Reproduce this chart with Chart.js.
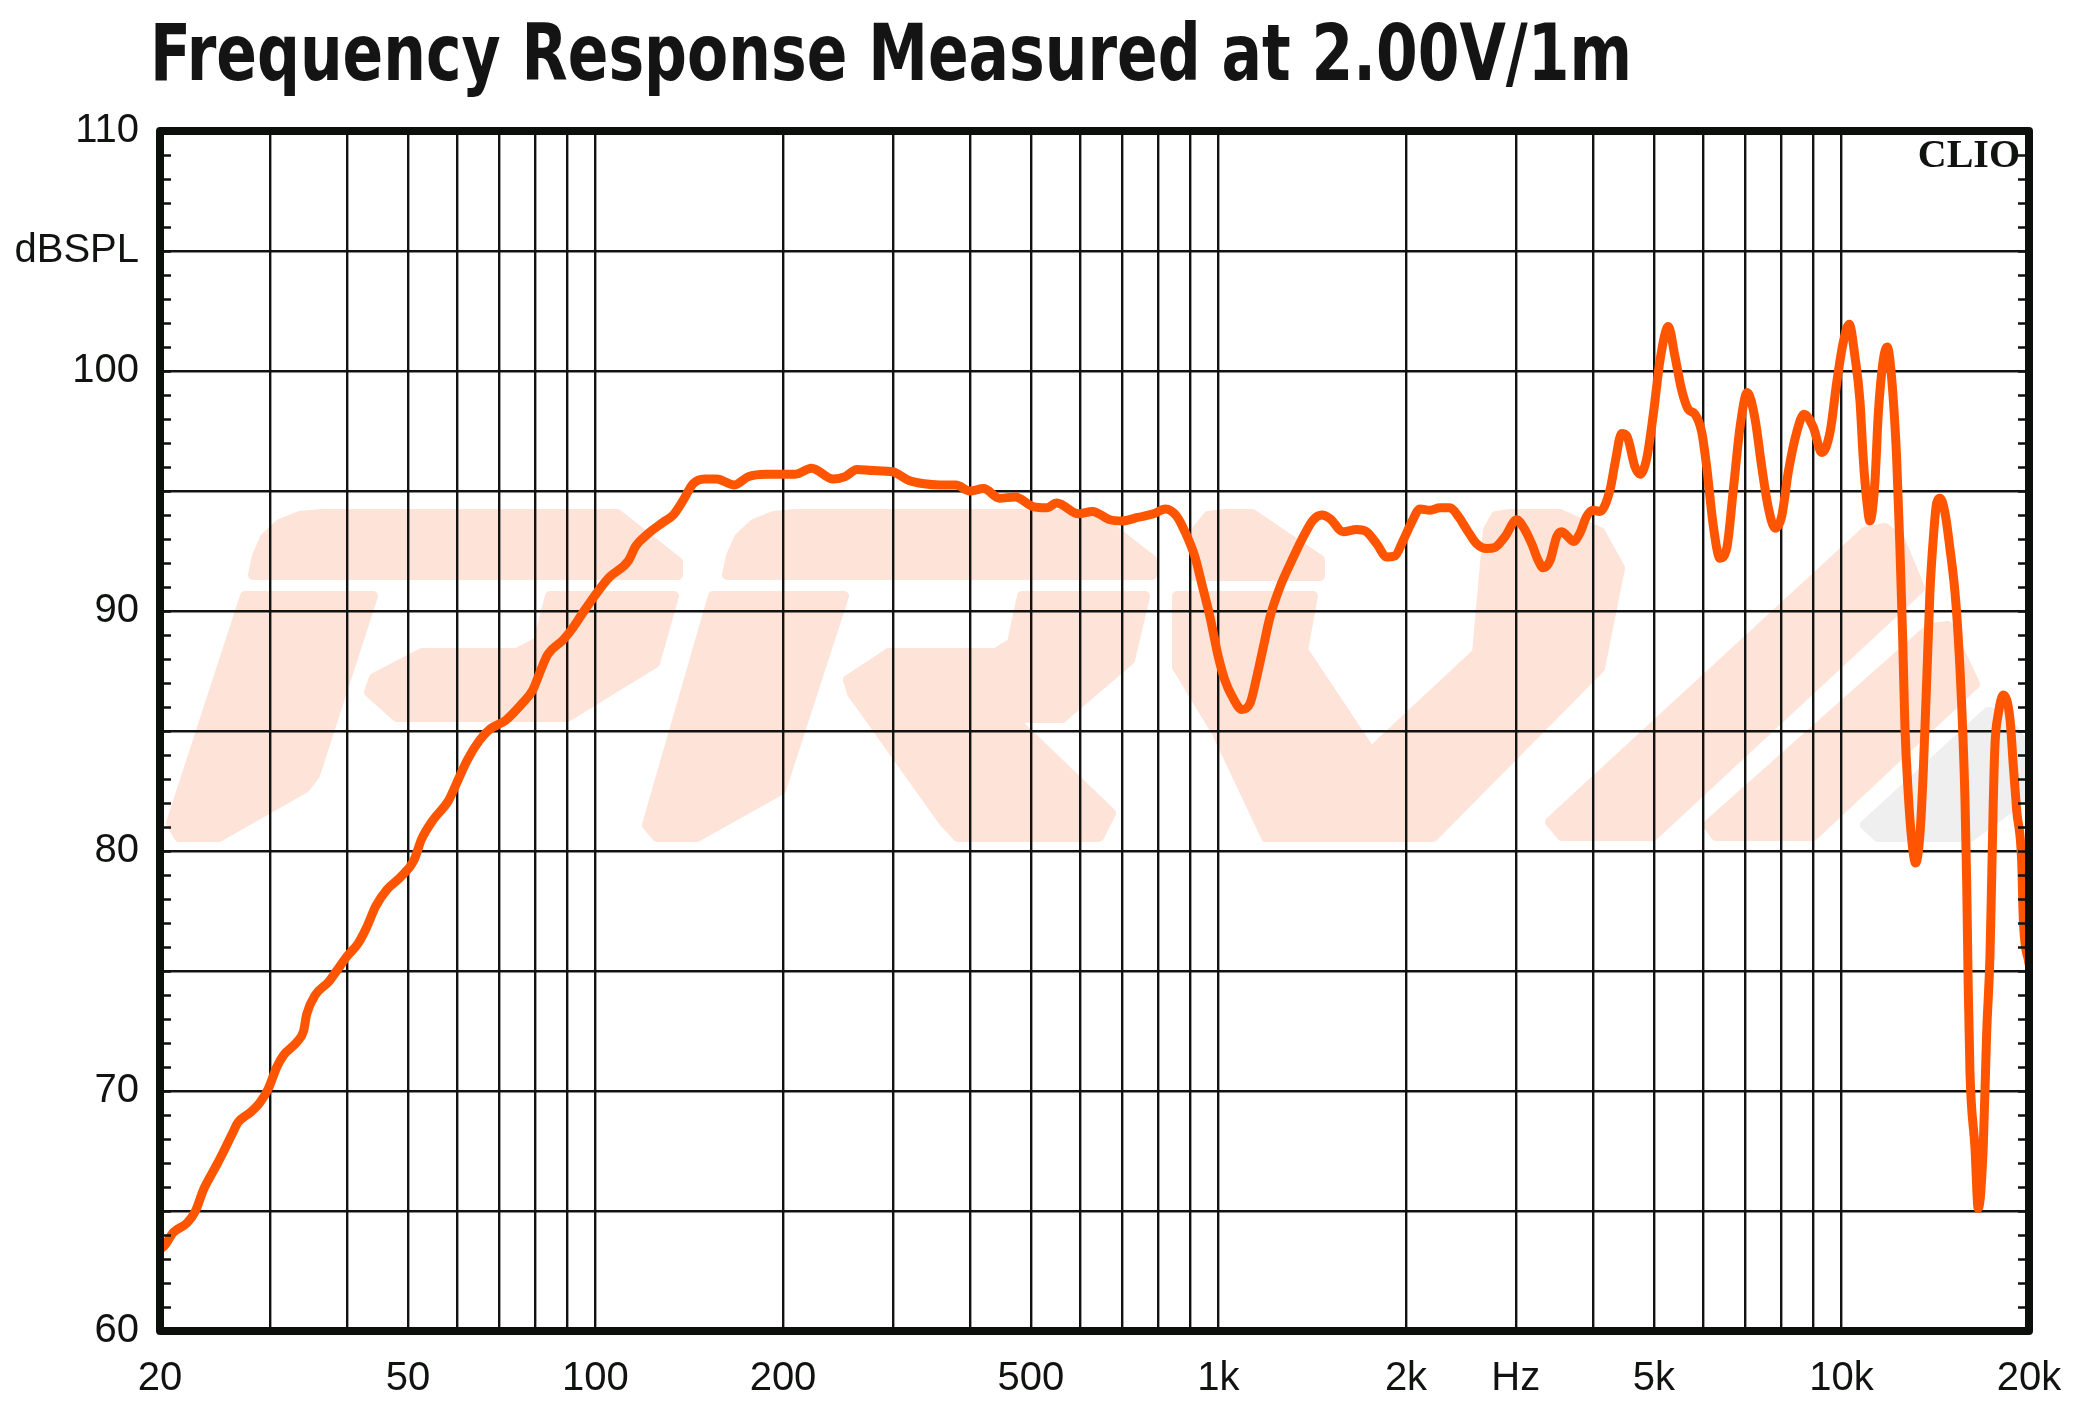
<!DOCTYPE html>
<html>
<head>
<meta charset="utf-8">
<title>Frequency Response Measured at 2.00V/1m</title>
<script src="https://cdn.jsdelivr.net/npm/chart.js@4.4.1/dist/chart.umd.min.js"></script>
<style>
  html, body { margin: 0; padding: 0; background: #fff; }
</style>
</head>
<body>
<canvas id="chartFR" width="2080" height="1414"></canvas>
<script>
// ========== DATA ==========
const TITLE = "Frequency Response Measured at 2.00V/1m";

const freqHz = [
  20, 20.4, 21.0, 22.1, 22.8, 23.5, 24.4, 25.1, 26.1, 26.7, 27.9, 28.9, 29.85, 30.8, 31.6,
  33.2, 34.0, 34.4, 35.5, 37.3, 38.4, 39.9, 41.6, 42.9, 44.4, 46.3, 48.6, 51.1, 52.6, 54.9,
  58.1, 59.8, 62.3, 65.1, 67.9, 71.8, 76.0, 79.3, 81.6, 83.9, 88.8, 91.4, 95.3, 99.5, 105.2,
  113.0, 116.0, 121.2, 128.5, 133.3, 138.2, 143.4, 149.8, 156.5, 167.1, 176.0, 187.8, 209.6, 222.2,
  240.8, 251.6, 262.8, 278.7, 299.9, 317.9, 337.1, 357.3, 379.1, 398.8, 419.9, 445.1, 471.8, 503.9,
  530.2, 550.0, 596.0, 627.4, 669.7, 700.1, 742.2, 786.8, 821.9, 857, 883.7, 916.9, 939.9, 969.2,
  999.4, 1024.5, 1056.4, 1089.8, 1123.8, 1152, 1180.4, 1209.9, 1255.4, 1311, 1368.6, 1420.2, 1465,
  1510, 1586.2, 1666.6, 1729.4, 1794.6, 1862.2, 1920.4, 1980, 2042.6, 2106.2, 2185.6, 2268, 2353,
  2426, 2503, 2597, 2695, 2779, 2883.6, 3011, 3085, 3183, 3261, 3322, 3406, 3491, 3556, 3622,
  3712, 3805, 3900, 3996, 4096, 4251, 4330, 4438, 4523, 4663, 4750, 4868, 4989, 5114, 5274, 5405,
  5541, 5677, 5820, 5966, 6077, 6227, 6383, 6543, 6705, 6873, 7061, 7266, 7448, 7632, 7823, 8019,
  8217, 8476, 8708, 9013, 9297, 9587, 9824, 10067, 10292, 10511, 10708, 10839, 10975, 11111, 11318,
  11457, 11670, 11844, 12038, 12263, 12413, 12538, 12645, 12800, 12962, 13155, 13366, 13530, 13701,
  13869, 14039, 14217, 14391, 14659, 14933, 15211, 15398, 15593, 15784, 15883, 15977, 16079, 16378,
  16579, 16888, 17102, 17312, 17421, 17525, 17635, 17852, 18185, 18641, 18869, 19108, 19465, 19580,
  20000
];

const splDb = [
  63.4, 63.6, 64.1, 64.5, 65.0, 65.9, 66.7, 67.3, 68.2, 68.7, 69.1, 69.5, 70.1, 71.0, 71.5,
  72.05, 72.5, 73.2, 74.0, 74.55, 75.0, 75.6, 76.15, 76.8, 77.7, 78.4, 78.9, 79.6, 80.5, 81.3,
  82.1, 82.8, 83.8, 84.6, 85.1, 85.45, 86.1, 86.7, 87.5, 88.2, 88.8, 89.2, 89.9, 90.6, 91.4,
  92.1, 92.7, 93.2, 93.7, 94.0, 94.6, 95.3, 95.5, 95.5, 95.25, 95.6, 95.7, 95.7, 95.95,
  95.5, 95.6, 95.9, 95.85, 95.8, 95.45, 95.3, 95.25, 95.25, 95.0, 95.1, 94.7, 94.75, 94.35,
  94.3, 94.5, 94.05, 94.15, 93.8, 93.75, 93.9, 94.05, 94.25, 93.95, 93.3, 92.25, 91.15, 89.75,
  88.1, 87.1, 86.35, 85.9, 86.15, 87.25, 88.5, 89.75, 91.0, 92.1, 93.1, 93.8, 94.0,
  93.85, 93.3, 93.4, 93.3, 92.8, 92.25, 92.3, 92.95, 93.7, 94.25, 94.2, 94.3, 94.3,
  93.95, 93.4, 92.8, 92.6, 92.65, 93.1, 93.8, 93.5, 92.8, 92.1, 91.8, 92.1, 93.1, 93.3, 93.15,
  92.9, 93.25, 93.95, 94.2, 94.15, 95.05, 96.15, 97.4, 97.3, 96.0, 95.7, 96.35, 98.2, 100.45, 101.85, 100.6,
  99.2, 98.4, 98.2, 97.45, 96.0, 93.55, 92.2, 92.6, 95.05, 97.65, 99.1, 98.0, 96.0, 94.3, 93.45, 93.95,
  95.8, 97.45, 98.2, 97.65, 96.6, 97.45, 99.5, 101.2, 101.95, 100.6, 98.75, 96.35, 94.65, 93.75, 95.4,
  98.2, 100.45, 101.0, 99.7, 96.35, 92.6, 88.9, 85.15, 82.4, 80.5, 79.5, 80.7, 83.3, 87.05,
  90.8, 93.0, 94.5, 94.7, 94.1, 92.6, 90.8, 88.9, 86.1, 82.2, 78.8, 74.3, 70.8, 67.65,
  65.1, 67.65, 72.4, 75.6, 78.8, 82.0, 84.4, 85.7, 86.5, 85.5, 83.6, 81.7, 79.6, 77.2,
  75.3
];

const xGridHz = [20, 30, 40, 50, 60, 70, 80, 90, 100, 200, 300, 400, 500, 600, 700, 800, 900,
  1000, 2000, 3000, 4000, 5000, 6000, 7000, 8000, 9000, 10000, 20000];
const xTickLabels = { 20: "20", 50: "50", 100: "100", 200: "200", 500: "500", 1000: "1k",
  2000: "2k", 3000: "Hz", 5000: "5k", 10000: "10k", 20000: "20k" };

const yGridDb = [60, 65, 70, 75, 80, 85, 90, 95, 100, 105, 110];
const yTickLabels = { 60: "60", 70: "70", 80: "80", 90: "90", 100: "100", 105: "dBSPL", 110: "110" };
const yMinorStep = 1;

// ========== STYLE ==========
const INK = "#111311";
const CURVE = "#ff5500";
const LOGO = "#fde3d8";
const LOGO_GRAY = "#efefef";
const LABEL_FONT = "'Liberation Sans', Arial, sans-serif";

// watermark outline, canvas px for a plot area whose top-left is (160,131)
const logoShapes = [
  [[253,575],[257,556],[265,538],[280,524],[300,516],[322,514],[617,514],[678,562],[678,575]],
  [[245,596],[373,596],[315,775],[305,788],[219,837],[179,837],[171,823]],
  [[550,596],[674,596],[655,663],[567,717],[397,717],[369,692],[374,678],[422,653],[517,653],[538,642]],
  [[727,575],[731,556],[739,538],[754,524],[774,516],[796,514],[1093,514],[1152,560],[1152,575]],
  [[713,596],[844,596],[781,790],[697,837],[657,837],[647,825]],
  [[1022,596],[1145,596],[1130,660],[1062,718],[1012,718],[1111,813],[1099,837],[958,837],[944,822],[852,693],[848,680],[889,653],[996,653],[1012,643]],
  [[1195,576],[1197,530],[1208,516],[1225,514],[1252,514],[1320,560],[1320,576]],
  [[1177,596],[1313,596],[1303,650],[1371,752],[1477,653],[1488,530],[1496,516],[1510,514],[1560,514],[1600,532],[1620,568],[1600,668],[1433,837],[1266,837],[1217,733],[1177,667]],
  [[1550,822],[1865,532],[1885,528],[1900,540],[1920,588],[1653,836],[1562,836]],
  [[1708,825],[1930,628],[1948,626],[1975,684],[1813,836],[1716,836]]
];
const logoGrayShape = [[1865,825],[1988,712],[2002,714],[2035,760],[2035,790],[1970,837],[1878,837]];

// ========== PLUGINS ==========
function tracePoly(ctx, pts) {
  ctx.beginPath();
  pts.forEach((p, i) => (i ? ctx.lineTo(p[0], p[1]) : ctx.moveTo(p[0], p[1])));
  ctx.closePath();
  ctx.fill();
  ctx.stroke();
}

const watermark = {
  id: "watermark",
  beforeDraw(chart) {
    const { ctx, chartArea: a } = chart;
    ctx.save();
    ctx.fillStyle = "#fff";
    ctx.fillRect(0, 0, chart.width, chart.height);
    ctx.beginPath();
    ctx.rect(a.left, a.top, a.right - a.left, a.bottom - a.top);
    ctx.clip();
    ctx.translate(a.left - 160, a.top - 131);
    ctx.lineJoin = "round";
    ctx.lineWidth = 10;
    ctx.fillStyle = ctx.strokeStyle = LOGO;
    logoShapes.forEach(s => tracePoly(ctx, s));
    ctx.fillStyle = ctx.strokeStyle = LOGO_GRAY;
    tracePoly(ctx, logoGrayShape);
    ctx.restore();
  }
};

const frame = {
  id: "frame",
  afterDatasetsDraw(chart) {
    const { ctx, chartArea: a, scales } = chart;
    const y = scales.y;
    ctx.save();
    // 1 dB ticks on both sides, inside the box
    ctx.strokeStyle = INK;
    ctx.lineWidth = 2.5;
    ctx.beginPath();
    for (let v = y.min + yMinorStep; v < y.max; v += yMinorStep) {
      const py = Math.round(y.getPixelForValue(v)) + 0.5;
      ctx.moveTo(a.left, py); ctx.lineTo(a.left + 11, py);
      ctx.moveTo(a.right - 11, py); ctx.lineTo(a.right, py);
    }
    ctx.stroke();
    // heavy box
    ctx.lineWidth = 8;
    ctx.lineJoin = "round";
    ctx.strokeStyle = "#0d0f0d";
    ctx.strokeRect(a.left, a.top, a.right - a.left, a.bottom - a.top);
    // CLIO mark
    ctx.fillStyle = INK;
    ctx.font = "bold 40px 'Liberation Serif', 'DejaVu Serif', serif";
    ctx.textAlign = "right";
    ctx.textBaseline = "alphabetic";
    ctx.fillText("CLIO", a.right - 9, a.top + 36);
    ctx.restore();
  }
};

const titleText = {
  id: "titleText",
  afterDraw(chart) {
    const ctx = chart.ctx;
    ctx.save();
    ctx.font = "bold 78px 'DejaVu Sans Condensed', 'DejaVu Sans', sans-serif";
    ctx.fillStyle = "#141414";
    ctx.textBaseline = "alphabetic";
    const w = ctx.measureText(TITLE).width;
    ctx.translate(150, 80);
    ctx.scale(1482 / w, 1);
    ctx.fillText(TITLE, 0, 0);
    ctx.restore();
  }
};

// ========== CHART ==========
new Chart(document.getElementById("chartFR"), {
  type: "line",
  data: {
    datasets: [{
      label: "SPL",
      data: freqHz.map((f, i) => ({ x: f, y: splDb[i] })),
      borderColor: CURVE,
      borderWidth: 9,
      pointRadius: 0,
      cubicInterpolationMode: "monotone",
      borderJoinStyle: "round",
      borderCapStyle: "round",
      fill: false
    }]
  },
  options: {
    responsive: false,
    animation: false,
    events: [],
    layout: { padding: { top: 131, right: 51, bottom: 0, left: 0 } },
    plugins: { legend: { display: false }, tooltip: { enabled: false }, title: { display: false } },
    scales: {
      x: {
        type: "logarithmic",
        min: 20,
        max: 20000,
        afterBuildTicks: s => { s.ticks = xGridHz.map(v => ({ value: v })); },
        afterFit: s => { s.height = 83; s.paddingLeft = 0; s.paddingRight = 0; },
        border: { display: false },
        grid: { color: INK, lineWidth: 2.4, drawTicks: false },
        ticks: {
          autoSkip: false, maxRotation: 0, minRotation: 0, padding: 24,
          color: INK, font: { family: LABEL_FONT, size: 40 },
          callback: v => xTickLabels[v] || ""
        }
      },
      y: {
        type: "linear",
        min: 60,
        max: 110,
        afterBuildTicks: s => { s.ticks = yGridDb.map(v => ({ value: v })); },
        afterFit: s => { s.width = 160; s.paddingTop = 0; s.paddingBottom = 0; },
        border: { display: false },
        grid: { color: INK, lineWidth: 2.4, drawTicks: false },
        ticks: {
          autoSkip: false, padding: 21,
          color: INK, font: { family: LABEL_FONT, size: 40 },
          callback: v => yTickLabels[v] || ""
        }
      }
    }
  },
  plugins: [watermark, frame, titleText]
});
</script>
</body>
</html>
